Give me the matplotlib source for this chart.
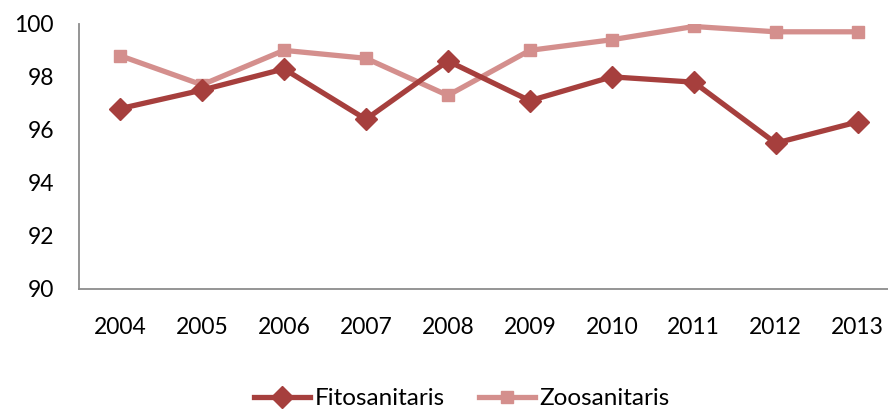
import matplotlib
matplotlib.use("Agg")
import matplotlib.pyplot as plt

years = ["2004", "2005", "2006", "2007", "2008", "2009", "2010", "2011", "2012", "2013"]
fitosanitaris = [96.8, 97.5, 98.3, 96.4, 98.6, 97.1, 98.0, 97.8, 95.5, 96.3]
zoosanitaris = [98.8, 97.7, 99.0, 98.7, 97.3, 99.0, 99.4, 99.9, 99.7, 99.7]

plt.rcParams["font.family"] = ["Lato", "DejaVu Sans"]

fig = plt.figure(figsize=(8.88, 4.11), dpi=100)
ax = fig.add_axes([0.089, 0.297, 0.923, 0.645])

x = range(len(years))
ax.plot(x, fitosanitaris, color="#A63F3D", lw=3.8, marker="D", ms=11,
        label="Fitosanitaris", zorder=3)
ax.plot(x, zoosanitaris, color="#D48F8D", lw=3.8, marker="s", ms=9,
        label="Zoosanitaris", zorder=2)

ax.set_xlim(-0.5, 9.5)
ax.set_ylim(90, 100)
ax.set_yticks(range(90, 101, 2))
ax.set_xticks(list(x))
ax.set_xticklabels(years)
ax.tick_params(length=0, labelsize=16.5, colors="black")
ax.tick_params(axis="x", pad=20)
ax.tick_params(axis="y", pad=18)

for side in ["top", "right"]:
    ax.spines[side].set_visible(False)
for side in ["left", "bottom"]:
    ax.spines[side].set_color("#8C8C8C")
    ax.spines[side].set_linewidth(1.3)

fig.legend(loc="center", bbox_to_anchor=(0.52, 0.03), ncol=2, frameon=False,
           fontsize=17.5, handlelength=2.3, columnspacing=1.4, handletextpad=0.2)

fig.savefig("out.png", dpi=100)
